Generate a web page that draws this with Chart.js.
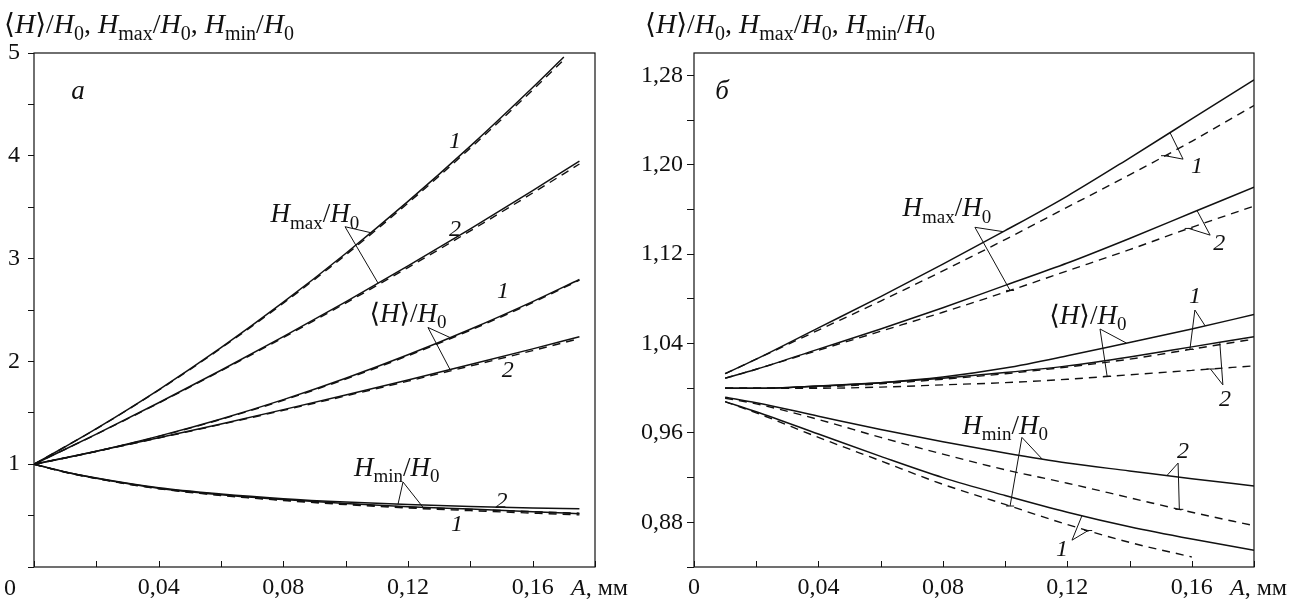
<!DOCTYPE html>
<html>
<head>
<meta charset="utf-8">
<script src="https://cdn.jsdelivr.net/npm/chart.js@4.4.1/dist/chart.umd.min.js"></script>
<style>
  body { margin: 0; background: #fff; width: 1309px; height: 612px; overflow: hidden; position: relative; }
  .pane { position: absolute; top: 0; height: 612px; }
  #paneA { left: 0; width: 640px; }
  #paneB { left: 640px; width: 669px; }
</style>
</head>
<body>
<div class="pane" id="paneA"><canvas id="chartA"></canvas></div>
<div class="pane" id="paneB"><canvas id="chartB"></canvas></div>
<script>
// ---- panel a: A, mm ----
const xsA = [0, 0.01, 0.02, 0.04, 0.06, 0.08, 0.10, 0.12, 0.14, 0.16, 0.175];
const xsA17 = [0, 0.01, 0.02, 0.04, 0.06, 0.08, 0.10, 0.12, 0.14, 0.16, 0.17];
const hmax1A_s = [1, 1.17, 1.346, 1.724, 2.134, 2.576, 3.05, 3.556, 4.094, 4.664, 4.961];
const hmax1A_d = [1, 1.17, 1.344, 1.72, 2.128, 2.566, 3.036, 3.54, 4.075, 4.64, 4.935];
const hmax2A_s = [1, 1.145, 1.293, 1.598, 1.914, 2.241, 2.579, 2.929, 3.29, 3.662, 3.948];
const hmax2A_d = [1, 1.145, 1.291, 1.594, 1.908, 2.232, 2.567, 2.913, 3.27, 3.638, 3.92];
const havg1A_s = [1, 1.06, 1.126, 1.273, 1.44, 1.628, 1.836, 2.064, 2.313, 2.582, 2.797];
const havg1A_d = [1, 1.06, 1.124, 1.27, 1.436, 1.622, 1.828, 2.055, 2.303, 2.572, 2.79];
const havg2A_s = [1, 1.062, 1.127, 1.258, 1.392, 1.531, 1.673, 1.819, 1.969, 2.122, 2.24];
const havg2A_d = [1, 1.061, 1.125, 1.254, 1.387, 1.524, 1.664, 1.808, 1.955, 2.105, 2.222];
const hmin2A_s = [1, 0.925, 0.865, 0.77, 0.71, 0.665, 0.632, 0.607, 0.588, 0.574, 0.566];
const hmin2A_d = [1, 0.923, 0.862, 0.764, 0.7, 0.652, 0.614, 0.583, 0.56, 0.538, 0.524];
const hmin1A_s = [1, 0.924, 0.863, 0.766, 0.703, 0.656, 0.618, 0.587, 0.563, 0.538, 0.518];
const hmin1A_d = [1, 0.922, 0.86, 0.761, 0.696, 0.647, 0.607, 0.574, 0.548, 0.524, 0.507];

// ---- panel б ----
const xsB = [0.01, 0.02, 0.04, 0.06, 0.08, 0.10, 0.12, 0.14, 0.16, 0.18];
const xsB16 = [0.01, 0.02, 0.04, 0.06, 0.08, 0.10, 0.12, 0.14, 0.16];
const hmax1B_s = [1.013, 1.026, 1.054, 1.082, 1.111, 1.141, 1.172, 1.206, 1.241, 1.276];
const hmax1B_d = [1.013, 1.026, 1.052, 1.078, 1.105, 1.133, 1.162, 1.191, 1.221, 1.253];
const hmax2B_s = [1.009, 1.017, 1.035, 1.053, 1.072, 1.092, 1.112, 1.134, 1.157, 1.18];
const hmax2B_d = [1.009, 1.017, 1.034, 1.051, 1.068, 1.086, 1.105, 1.124, 1.144, 1.163];
const havg1B_s = [1.0, 1.0, 1.002, 1.005, 1.01, 1.018, 1.029, 1.041, 1.053, 1.066];
const havg1B_d = [1.0, 1.0, 1.001, 1.004, 1.008, 1.013, 1.019, 1.026, 1.035, 1.044];
const havg2B_s = [1.0, 1.0, 1.002, 1.005, 1.009, 1.014, 1.02, 1.028, 1.037, 1.046];
const havg2B_d = [1.0, 1.0, 1.0, 1.001, 1.003, 1.005, 1.008, 1.012, 1.016, 1.02];
const hmin2B_s = [0.992, 0.987, 0.975, 0.963, 0.952, 0.942, 0.933, 0.926, 0.919, 0.9125];
const hmin2B_d = [0.991, 0.986, 0.972, 0.956, 0.941, 0.927, 0.915, 0.902, 0.889, 0.877];
const hmin1B_s = [0.988, 0.979, 0.959, 0.939, 0.92, 0.904, 0.889, 0.876, 0.865, 0.855];
const hmin1B_d = [0.988, 0.978, 0.956, 0.935, 0.914, 0.896, 0.878, 0.862, 0.849];

// ticks
const xTicks = [0, 0.02, 0.04, 0.06, 0.08, 0.10, 0.12, 0.14, 0.16, 0.18];
const yTicksA = [0, 0.5, 1, 1.5, 2, 2.5, 3, 3.5, 4, 4.5, 5];
const yTicksB = [0.84, 0.88, 0.92, 0.96, 1.0, 1.04, 1.08, 1.12, 1.16, 1.20, 1.24, 1.28];
const yLabelsB = [0.88, 0.96, 1.04, 1.12, 1.20, 1.28];

const INK = '#111';
const FAM = '"Liberation Serif", "DejaVu Serif", serif';

// bits of formula text: [text, style]  r = roman, i = italic, s = subscript
const H_AVG = [['⟨', 'r'], ['H', 'i'], ['⟩/', 'r'], ['H', 'i'], ['0', 's']];
const H_MAX = [['H', 'i'], ['max', 's'], ['/', 'r'], ['H', 'i'], ['0', 's']];
const H_MIN = [['H', 'i'], ['min', 's'], ['/', 'r'], ['H', 'i'], ['0', 's']];
const TITLE = [...H_AVG, [', ', 'r'], ...H_MAX, [', ', 'r'], ...H_MIN];
const X_UNIT = [['A', 'i'], [', мм', 'r']];

function fontOf(style, size) {
    const px = style === 's' ? Math.round(size * 0.7) : size;
    return (style === 'i' ? 'italic ' : '') + px + 'px ' + FAM;
}

function drawParts(ctx, parts, x, yc, size, align) {
    let w = 0;
    parts.forEach(p => { ctx.font = fontOf(p[1], size); w += ctx.measureText(p[0]).width; });
    let cx = align === 'center' ? x - w / 2 : (align === 'right' ? x - w : x);
    const base = yc + size * 0.33;
    ctx.textAlign = 'left';
    ctx.textBaseline = 'alphabetic';
    ctx.fillStyle = INK;
    parts.forEach(p => {
        ctx.font = fontOf(p[1], size);
        ctx.fillText(p[0], cx, p[1] === 's' ? base + size * 0.24 : base);
        cx += ctx.measureText(p[0]).width;
    });
}

function interp(xs, ys, a) {
    for (let i = 0; i < xs.length - 1; i++) {
        if (a >= xs[i] && a <= xs[i + 1]) {
            const t = (a - xs[i]) / (xs[i + 1] - xs[i]);
            return ys[i] + t * (ys[i + 1] - ys[i]);
        }
    }
    return ys[ys.length - 1];
}

// frame, inward x ticks, callout lines and labels
const notesPlugin = {
    id: 'notes',
    afterDraw(chart, args, opts) {
        const ctx = chart.ctx;
        const sx = chart.scales.x, sy = chart.scales.y;
        const area = chart.chartArea;
        ctx.save();
        ctx.strokeStyle = INK;
        ctx.lineWidth = 1.2;
        ctx.strokeRect(area.left, area.top, area.right - area.left, area.bottom - area.top);

        ctx.lineWidth = 1;
        sx.ticks.forEach(t => {
            const px = Math.round(sx.getPixelForValue(t.value)) + 0.5;
            ctx.beginPath();
            ctx.moveTo(px, area.bottom);
            ctx.lineTo(px, area.bottom - 6);
            ctx.stroke();
        });

        opts.legs.forEach(l => {
            const s = opts.series[l.to[1]];
            const x1 = sx.getPixelForValue(l.from[0]), y1 = sy.getPixelForValue(l.from[1]);
            const x2 = sx.getPixelForValue(l.to[0]), y2 = sy.getPixelForValue(interp(s[0], s[1], l.to[0]));
            ctx.beginPath();
            ctx.moveTo(x1, y1);
            ctx.lineTo(x2, y2);
            ctx.stroke();
            if (l.tick) {
                ctx.beginPath();
                ctx.moveTo(x2 - 4, y2);
                ctx.lineTo(x2 + 4, y2);
                ctx.stroke();
            }
        });

        opts.texts.forEach(t => {
            drawParts(ctx, t.parts, sx.getPixelForValue(t.at[0]), sy.getPixelForValue(t.at[1]), t.size || 24, 'center');
        });

        // axis captions
        drawParts(ctx, TITLE, opts.titleX, 24, 28, 'left');
        drawParts(ctx, X_UNIT, area.right - 24, area.bottom + 20, 24, 'left');
        if (opts.zeroX !== undefined) {
            drawParts(ctx, [['0', 'r']], opts.zeroX, area.bottom + 20, 24, 'center');
        }
        ctx.restore();
    }
};

function line(xs, ys, dashed) {
    return {
        data: xs.map((x, i) => ({ x: x, y: ys[i] })),
        borderColor: INK,
        borderWidth: dashed ? 1.4 : 1.5,
        borderDash: dashed ? [8, 6] : [],
        pointRadius: 0,
        fill: false
    };
}

function fmt(v) {
    return v.toFixed(2).replace('.', ',');
}

function makeChart(canvasId, datasets, cfg) {
    const tickFont = { family: FAM, size: 24 };
    return new Chart(document.getElementById(canvasId), {
        type: 'line',
        data: { datasets: datasets },
        options: {
            responsive: true,
            maintainAspectRatio: false,
            animation: false,
            devicePixelRatio: 1,
            layout: { padding: { left: 0, right: cfg.padRight, top: 53, bottom: 0 } },
            elements: { line: { cubicInterpolationMode: 'monotone' }, point: { radius: 0 } },
            plugins: {
                legend: { display: false },
                tooltip: { enabled: false },
                notes: cfg.notes
            },
            scales: {
                x: {
                    type: 'linear',
                    min: 0,
                    max: 0.18,
                    afterBuildTicks: s => { s.ticks = xTicks.map(v => ({ value: v })); },
                    afterFit: s => { s.height = 45; },
                    grid: { display: false, drawTicks: false },
                    border: { display: false },
                    ticks: {
                        autoSkip: false, maxRotation: 0, minRotation: 0, padding: 6,
                        color: INK, font: tickFont, callback: cfg.xLabel
                    }
                },
                y: {
                    type: 'linear',
                    min: cfg.yMin,
                    max: cfg.yMax,
                    afterBuildTicks: s => { s.ticks = cfg.yTicks.map(v => ({ value: v })); },
                    afterFit: s => { s.width = cfg.yWidth; },
                    grid: { drawOnChartArea: false, drawTicks: true, tickLength: cfg.tickLen, color: INK, lineWidth: 1 },
                    border: { display: false },
                    ticks: { autoSkip: false, padding: cfg.yPad, color: INK, font: tickFont, callback: cfg.yLabel }
                }
            }
        },
        plugins: [notesPlugin]
    });
}

// panel a
makeChart('chartA', [
    line(xsA17, hmax1A_d, true), line(xsA, hmax2A_d, true), line(xsA, havg1A_d, true),
    line(xsA, havg2A_d, true), line(xsA, hmin2A_d, true), line(xsA, hmin1A_d, true),
    line(xsA17, hmax1A_s, false), line(xsA, hmax2A_s, false), line(xsA, havg1A_s, false),
    line(xsA, havg2A_s, false), line(xsA, hmin2A_s, false), line(xsA, hmin1A_s, false)
], {
    padRight: 45, yWidth: 34, tickLen: 6, yPad: 8,
    yMin: 0, yMax: 5, yTicks: yTicksA,
    yLabel: v => (v > 0 && Math.abs(v - Math.round(v)) < 1e-9) ? String(Math.round(v)) : '',
    xLabel: v => { const k = Math.round(v * 100); return (k > 0 && k < 18 && k % 4 === 0) ? fmt(v) : ''; },
    notes: {
        titleX: 4,
        zeroX: 10,
        series: {
            hmax1: [xsA17, hmax1A_s], hmax2: [xsA, hmax2A_s],
            havg1: [xsA, havg1A_s], havg2: [xsA, havg2A_s],
            hmin1: [xsA, hmin1A_s], hmin2: [xsA, hmin2A_s]
        },
        texts: [
            { at: [0.0141, 4.64], parts: [['a', 'i']], size: 27 },
            { at: [0.0901, 3.44], parts: H_MAX, size: 27 },
            { at: [0.1351, 4.15], parts: [['1', 'i']], size: 24 },
            { at: [0.1351, 3.30], parts: [['2', 'i']], size: 24 },
            { at: [0.12, 2.47], parts: H_AVG, size: 27 },
            { at: [0.1505, 2.69], parts: [['1', 'i']], size: 24 },
            { at: [0.152, 1.93], parts: [['2', 'i']], size: 24 },
            { at: [0.1164, 0.976], parts: H_MIN, size: 27 },
            { at: [0.150, 0.65], parts: [['2', 'i']], size: 24 },
            { at: [0.1357, 0.43], parts: [['1', 'i']], size: 24 }
        ],
        legs: [
            { from: [0.0998, 3.31], to: [0.108, 'hmax1'] },
            { from: [0.0998, 3.31], to: [0.1104, 'hmax2'] },
            { from: [0.1264, 2.33], to: [0.1335, 'havg1'] },
            { from: [0.1264, 2.33], to: [0.1335, 'havg2'] },
            { from: [0.1184, 0.827], to: [0.1168, 'hmin2'] },
            { from: [0.1184, 0.827], to: [0.1248, 'hmin1'] }
        ]
    }
});

// panel б
makeChart('chartB', [
    line(xsB, hmax1B_d, true), line(xsB, hmax2B_d, true), line(xsB, havg1B_d, true),
    line(xsB, havg2B_d, true), line(xsB, hmin2B_d, true), line(xsB16, hmin1B_d, true),
    line(xsB, hmax1B_s, false), line(xsB, hmax2B_s, false), line(xsB, havg1B_s, false),
    line(xsB, havg2B_s, false), line(xsB, hmin2B_s, false), line(xsB, hmin1B_s, false)
], {
    padRight: 55, yWidth: 54, tickLen: 7, yPad: 4,
    yMin: 0.84, yMax: 1.30, yTicks: yTicksB,
    yLabel: v => yLabelsB.some(l => Math.abs(l - v) < 1e-6) ? fmt(v) : '',
    xLabel: v => { const k = Math.round(v * 100); return k === 0 ? '0' : ((k < 18 && k % 4 === 0) ? fmt(v) : ''); },
    notes: {
        titleX: 5,
        series: {
            hmax1s: [xsB, hmax1B_s], hmax1d: [xsB, hmax1B_d],
            hmax2s: [xsB, hmax2B_s], hmax2d: [xsB, hmax2B_d],
            havg1s: [xsB, havg1B_s], havg1d: [xsB, havg1B_d],
            havg2s: [xsB, havg2B_s], havg2d: [xsB, havg2B_d],
            hmin1s: [xsB, hmin1B_s], hmin1d: [xsB16, hmin1B_d],
            hmin2s: [xsB, hmin2B_s], hmin2d: [xsB, hmin2B_d]
        },
        texts: [
            { at: [0.009, 1.267], parts: [['б', 'i']], size: 27 },
            { at: [0.0813, 1.162], parts: H_MAX, size: 27 },
            { at: [0.1617, 1.200], parts: [['1', 'i']], size: 24 },
            { at: [0.1688, 1.131], parts: [['2', 'i']], size: 24 },
            { at: [0.1266, 1.0655], parts: H_AVG, size: 27 },
            { at: [0.161, 1.083], parts: [['1', 'i']], size: 24 },
            { at: [0.1707, 0.991], parts: [['2', 'i']], size: 24 },
            { at: [0.100, 0.967], parts: H_MIN, size: 27 },
            { at: [0.1572, 0.945], parts: [['2', 'i']], size: 24 },
            { at: [0.1183, 0.857], parts: [['1', 'i']], size: 24 }
        ],
        legs: [
            { from: [0.0903, 1.144], to: [0.0994, 'hmax1s'] },
            { from: [0.0903, 1.144], to: [0.1016, 'hmax2d'], tick: true },
            { from: [0.1572, 1.205], to: [0.153, 'hmax1s'] },
            { from: [0.1572, 1.205], to: [0.1514, 'hmax1d'], tick: true },
            { from: [0.1659, 1.137], to: [0.1617, 'hmax2s'] },
            { from: [0.1659, 1.137], to: [0.159, 'hmax2d'], tick: true },
            { from: [0.1305, 1.053], to: [0.139, 'havg1s'] },
            { from: [0.1305, 1.053], to: [0.1328, 'havg2d'], tick: true },
            { from: [0.161, 1.070], to: [0.1643, 'havg1s'] },
            { from: [0.161, 1.070], to: [0.1594, 'havg1d'], tick: true },
            { from: [0.170, 1.003], to: [0.169, 'havg2s'] },
            { from: [0.170, 1.003], to: [0.166, 'havg2d'], tick: true },
            { from: [0.1054, 0.956], to: [0.1119, 'hmin2s'] },
            { from: [0.1054, 0.956], to: [0.1016, 'hmin1d'], tick: true },
            { from: [0.1556, 0.933], to: [0.152, 'hmin2s'] },
            { from: [0.1556, 0.933], to: [0.156, 'hmin2d'], tick: true },
            { from: [0.1215, 0.864], to: [0.1247, 'hmin1s'] },
            { from: [0.1215, 0.864], to: [0.1267, 'hmin1d'], tick: true }
        ]
    }
});
</script>
</body>
</html>
